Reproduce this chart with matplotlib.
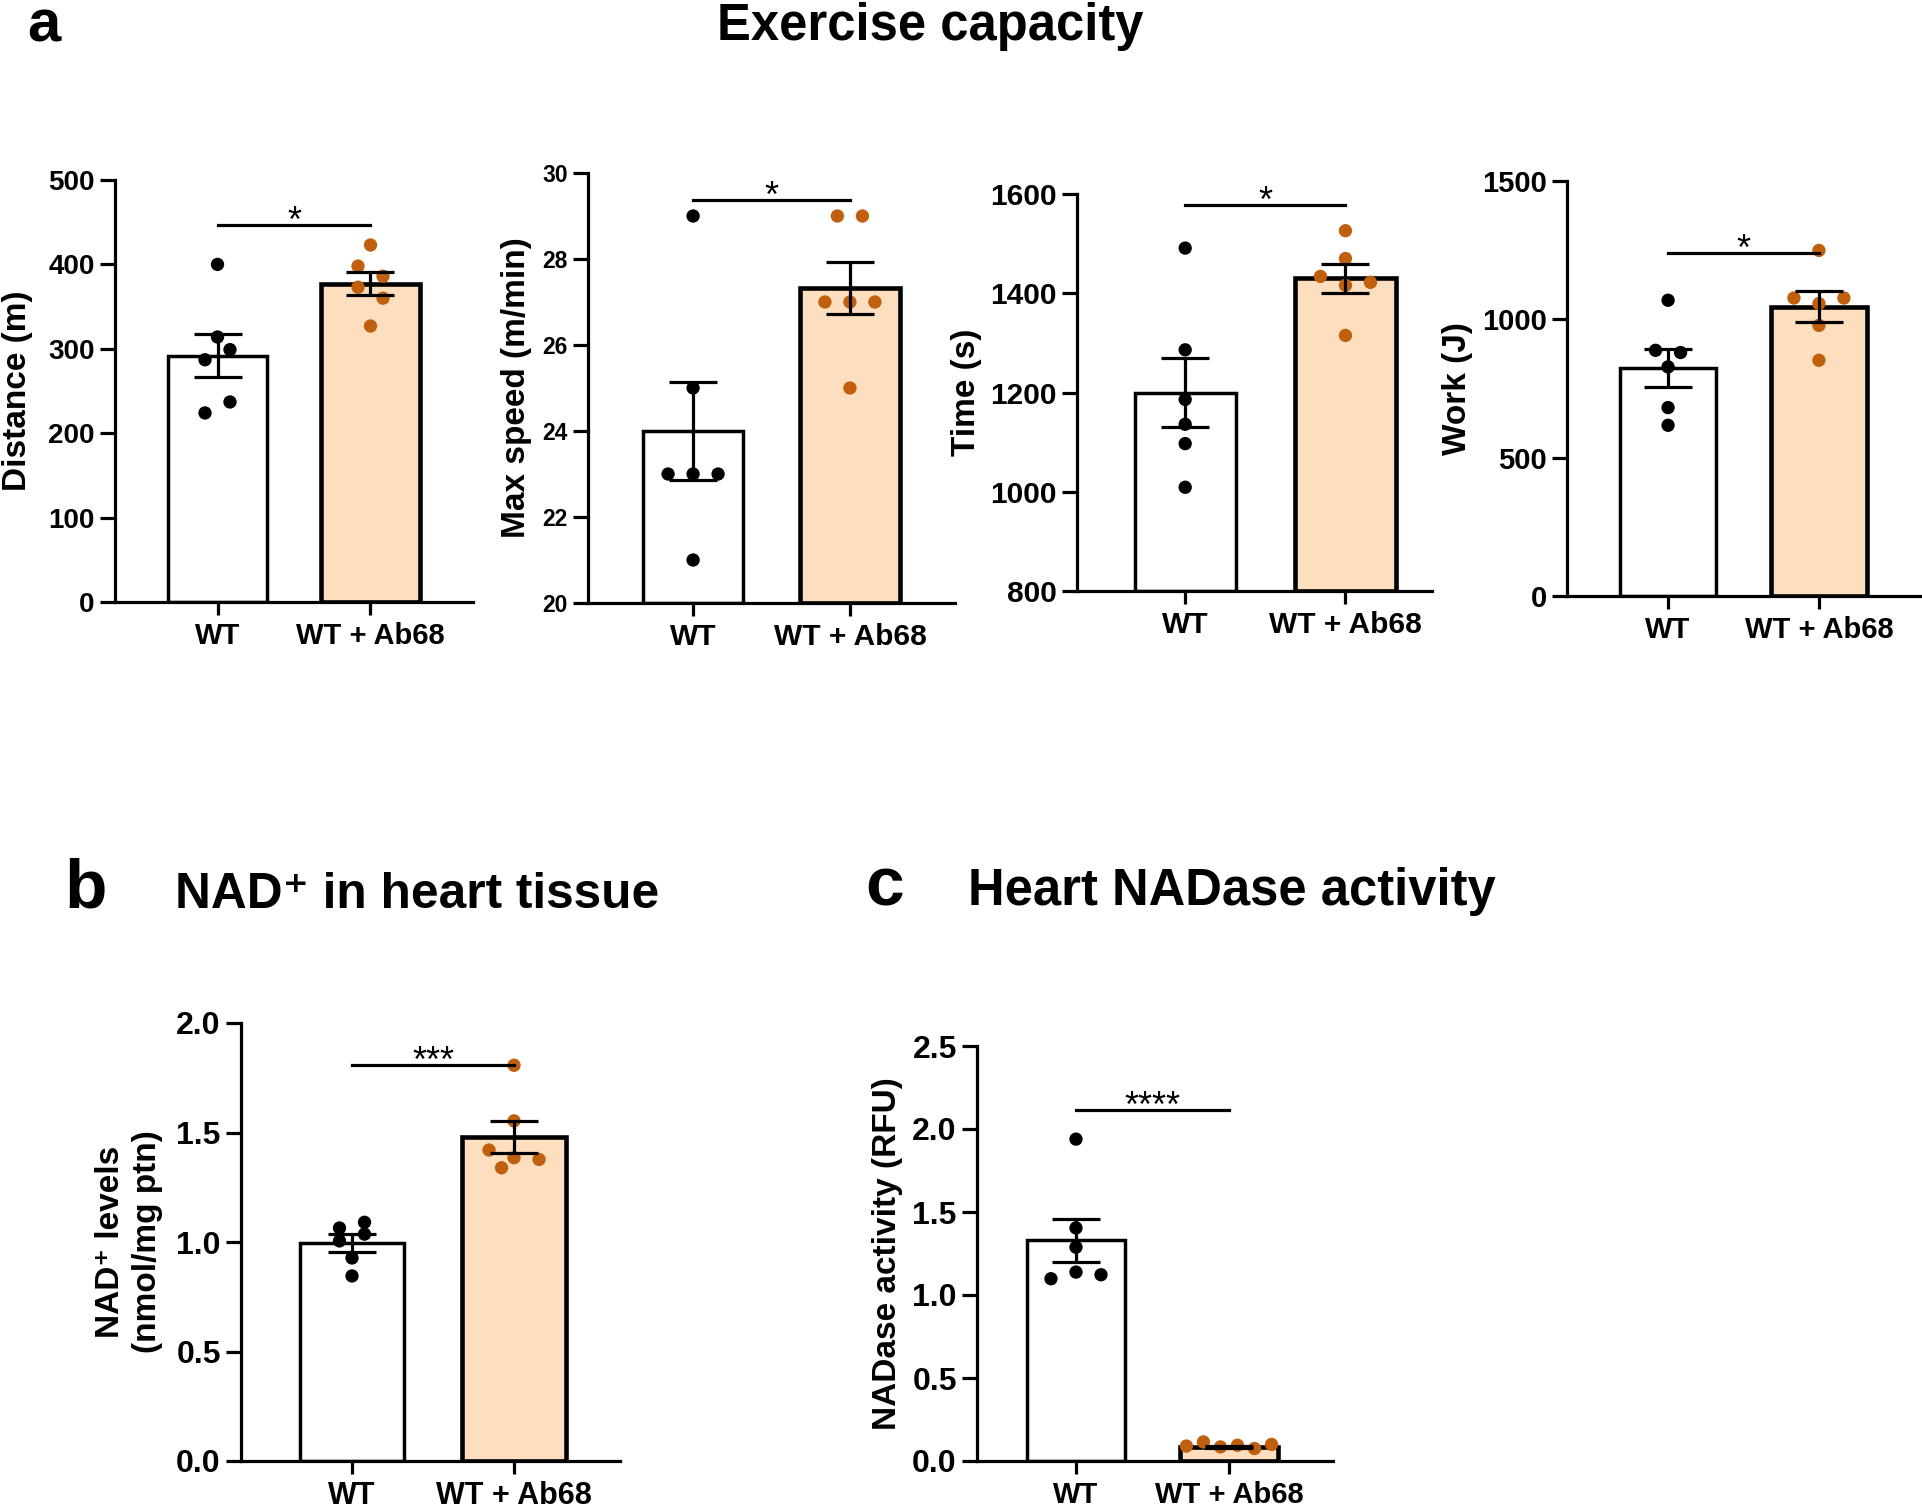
import numpy as np
import matplotlib
matplotlib.use("Agg")
import matplotlib.pyplot as plt

# ---- data ----
groups = ["WT", "WT + Ab68"]

distance_wt = [400, 314, 287, 299, 224, 237]
distance_ab = [423, 398, 386, 373, 360, 327]
distance_mean = [292, 377]
distance_sem = [26, 13.5]

speed_wt = [29, 25, 23, 23, 23, 21]
speed_ab = [29, 29, 27, 27, 27, 25]
speed_mean = [24, 27.33]
speed_sem = [1.13, 0.61]

time_wt = [1491, 1286, 1186, 1136, 1097, 1009]
time_ab = [1526, 1470, 1434, 1416, 1422, 1315]
time_mean = [1200, 1430]
time_sem = [70, 29]

work_wt = [1069, 888, 880, 828, 681, 617]
work_ab = [1249, 1077, 1057, 1077, 978, 852]
work_mean = [824, 1046]
work_sem = [67, 55]

nad_wt = [1.064, 1.09, 1.005, 1.036, 0.927, 0.845]
nad_ab = [1.807, 1.553, 1.42, 1.385, 1.377, 1.339]
nad_mean = [0.995, 1.48]
nad_sem = [0.04, 0.072]

nadase_wt = [1.939, 1.404, 1.288, 1.098, 1.138, 1.122]
nadase_ab = [0.09, 0.115, 0.085, 0.095, 0.075, 0.1]
nadase_mean = [1.33, 0.085]
nadase_sem = [0.13, 0.006]

sig_labels = ["*", "*", "*", "*", "***", "****"]
sig_heights = [447, 29.37, 1577, 1240, 1.807, 2.117]

# ---- style ----
W, H = 1922, 1509
FILL = ["white", "#FDDFC0"]
DOT = ["black", "#C0600E"]
BAR_LW = [2.5, 3.3]
LW = 2.3
DOT_PX = 13.5     # dot diameter in pixels
ROW_PX = 11.3     # dots closer than this (vertically) share a row
STEP_PX = 25      # horizontal spacing of dots in one row
SANS = ["Liberation Sans", "DejaVu Sans"]

plt.rcParams["font.family"] = SANS
plt.rcParams["font.weight"] = "bold"

fig = plt.figure(figsize=(W / 100, H / 100), dpi=100)


def px_axes(left, top, right, bottom):
    return fig.add_axes([left / W, 1 - bottom / H, (right - left) / W, (bottom - top) / H])


def swarm_x(ax, xc, vals, width):
    # GraphPad-like scatter: dots of similar height go side by side in a row
    tr = ax.transData
    x0 = tr.transform((xc, 0))[0]
    span = 0.87 * (tr.transform((width, 0))[0] - tr.transform((0, 0))[0])
    ypx = [tr.transform((xc, v))[1] for v in vals]
    rows = []
    for i in sorted(range(len(vals)), key=lambda k: -vals[k]):
        if rows and ypx[rows[-1][0]] - ypx[i] < ROW_PX:
            rows[-1].append(i)
        else:
            rows.append([i])
    xpx = [x0] * len(vals)
    placed = []
    for row in rows:
        row.sort()
        n = len(row)
        step = min(STEP_PX, span / (n - 1)) if n > 1 else STEP_PX
        if n > 1:
            for j, i in enumerate(row):
                xpx[i] = x0 + (j - (n - 1) / 2) * step
        else:
            i = row[0]
            for k in [0, -0.5, 0.5, -1, 1]:
                x = x0 + k * step
                if all(np.hypot(x - xpx[p], ypx[i] - ypx[p]) >= DOT_PX for p in placed):
                    break
            xpx[i] = x
        placed.extend(row)
    inv = tr.inverted()
    return [inv.transform((x, y))[0] for x, y in zip(xpx, ypx)]


def bar_panel(ax, wt, ab, mean, sem, ylim, yticks, ylabel, xlim, width,
              ytick_fs, xtick_fs, label_x, sig, star):
    ax.set_xlim(*xlim)
    ax.set_ylim(*ylim)
    x = np.arange(2)
    ax.bar(x, np.array(mean) - ylim[0], bottom=ylim[0], width=width,
           color=FILL, edgecolor="black", linewidth=BAR_LW, zorder=1)
    for i, pts in enumerate([wt, ab]):
        xs = swarm_x(ax, i, pts, width)
        ax.scatter(xs, pts, s=92, color=DOT[i], edgecolors="none", zorder=3, clip_on=False)
    ax.errorbar(x, mean, yerr=sem, fmt="none", ecolor="black", elinewidth=LW,
                capsize=17, capthick=LW, zorder=4)
    ax.plot([0, 1], [sig, sig], color="black", lw=LW, clip_on=False, zorder=5)
    ax.annotate(star, xy=(0.5, sig), xytext=(0, -5), textcoords="offset points",
                ha="center", va="baseline", fontsize=26, fontweight="normal",
                annotation_clip=False)

    for s in ["top", "right"]:
        ax.spines[s].set_visible(False)
    for s in ["left", "bottom"]:
        ax.spines[s].set_linewidth(LW)
    ax.set_yticks(yticks)
    ax.set_xticks(x)
    ax.set_xticklabels(groups)
    ax.tick_params(axis="y", length=10.5, width=LW, pad=4, labelsize=ytick_fs)
    ax.tick_params(axis="x", length=9.5, width=LW, pad=5, labelsize=xtick_fs)
    ax.set_ylabel(ylabel, fontsize=24, fontweight="bold", linespacing=1.25)
    ax.yaxis.set_label_coords(label_x, 0.5)


# panel a
ax1 = px_axes(115, 180, 473, 602)
bar_panel(ax1, distance_wt, distance_ab, distance_mean, distance_sem, (0, 500),
          [0, 100, 200, 300, 400, 500], "Distance (m)", (-0.67, 1.67), 0.65,
          20, 21, -0.23, sig_heights[0], sig_labels[0])

ax2 = px_axes(588, 173, 955, 603)
bar_panel(ax2, speed_wt, speed_ab, speed_mean, speed_sem, (20, 30),
          [20, 22, 24, 26, 28, 30], "Max speed (m/min)", (-0.67, 1.67), 0.64,
          16.5, 21.5, -0.153, sig_heights[1], sig_labels[1])

ax3 = px_axes(1077, 194, 1432, 591)
bar_panel(ax3, time_wt, time_ab, time_mean, time_sem, (800, 1600),
          [800, 1000, 1200, 1400, 1600], "Time (s)", (-0.675, 1.54), 0.63,
          21.5, 21.5, -0.268, sig_heights[2], sig_labels[2])

ax4 = px_axes(1567, 181, 1920, 596)
bar_panel(ax4, work_wt, work_ab, work_mean, work_sem, (0, 1500),
          [0, 500, 1000, 1500], "Work (J)", (-0.67, 1.67), 0.64,
          21, 21, -0.266, sig_heights[3], sig_labels[3])

# panel b
ax5 = px_axes(241, 1023, 620, 1461)
bar_panel(ax5, nad_wt, nad_ab, nad_mean, nad_sem, (0, 2.0),
          [0.0, 0.5, 1.0, 1.5, 2.0], "NAD⁺ levels\n(nmol/mg ptn)", (-0.685, 1.654), 0.64,
          23, 22, -0.206, sig_heights[4], sig_labels[4])
ax5.yaxis.set_major_formatter(matplotlib.ticker.FormatStrFormatter("%.1f"))

# panel c
ax6 = px_axes(977, 1046, 1333, 1461)
bar_panel(ax6, nadase_wt, nadase_ab, nadase_mean, nadase_sem, (0, 2.5),
          [0.0, 0.5, 1.0, 1.5, 2.0, 2.5], "NADase activity (RFU)", (-0.647, 1.68), 0.64,
          23, 21, -0.208, sig_heights[5], sig_labels[5])
ax6.yaxis.set_major_formatter(matplotlib.ticker.FormatStrFormatter("%.1f"))


def fig_text(x, y, s, size):
    fig.text(x / W, 1 - y / H, s, fontsize=size, fontweight="bold",
             ha="left", va="baseline")


fig_text(27, 42, "a", 43)
fig_text(717, 40, "Exercise capacity", 36.5)
fig_text(64, 908, "b", 50)
fig_text(175, 908, "NAD⁺ in heart tissue", 35.7)
fig_text(865, 906, "c", 50)
fig_text(968, 905, "Heart NADase activity", 36.5)

fig.savefig("out.png", dpi=100)
